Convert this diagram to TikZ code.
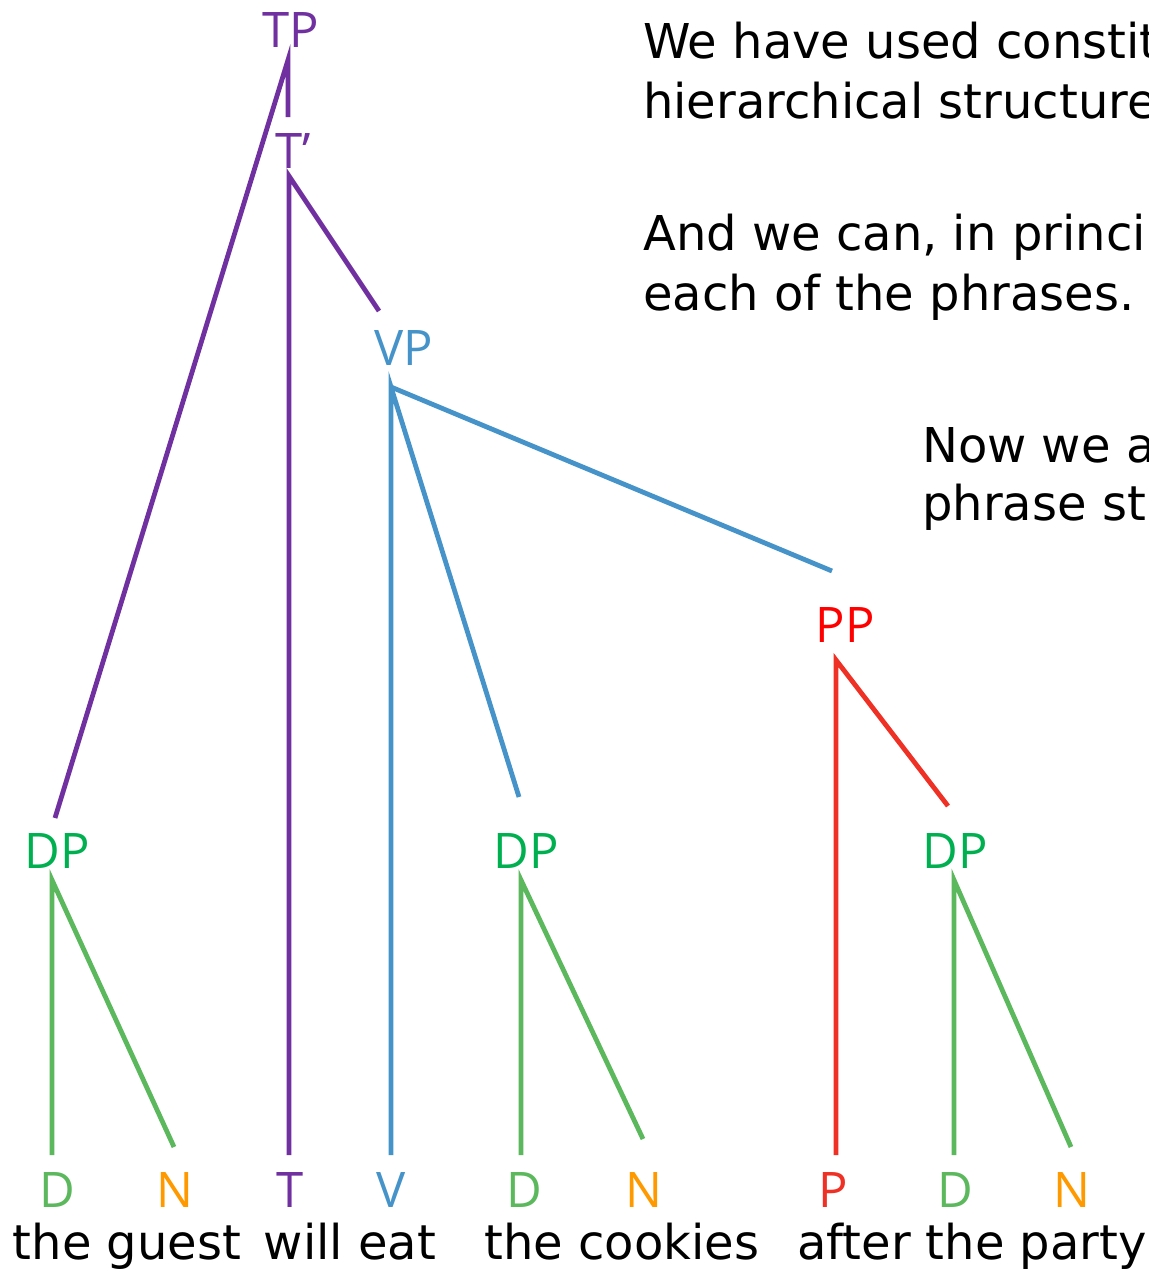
\documentclass[tikz,border=0pt]{standalone}
\usepackage{fontspec}
\setmainfont{DejaVu Sans}
\newfontfamily\labfont{Open Sans}
\definecolor{cpurple}{HTML}{7030A0}
\definecolor{cblue}{HTML}{4593C8}
\definecolor{cgreen}{HTML}{00B050}
\definecolor{clgreen}{HTML}{5CB85C}
\definecolor{corange}{HTML}{FF9900}
\definecolor{cred}{HTML}{FF0000}
\definecolor{clred}{HTML}{EE3124}
\tikzset{
  lab/.style={font=\labfont\fontsize{49}{56}\selectfont, anchor=base, inner sep=0pt},
  word/.style={font=\fontsize{48}{56}\selectfont, anchor=base, inner sep=0pt},
  para/.style={font=\fontsize{48}{56}\selectfont, anchor=base west, inner sep=0pt},
  edge/.style={line width=4.8pt},
}
\begin{document}
\begin{tikzpicture}[x=1pt,y=-1pt]
\useasboundingbox (0,0) rectangle (1149,1270);
\clip (0,0) rectangle (1149,1270);
% labels
\node[lab, text=cpurple] (TP) at (291,47) {TP};
\node[lab, text=cpurple] (Tbar) at (293,168) {T’};
\node[lab, text=cblue] (VP) at (404,365) {VP};
\node[lab, text=cred] (PP) at (845,642) {PP};
\node[lab, text=cgreen] (DP1) at (57,868) {DP};
\node[lab, text=cgreen] (DP2) at (526,868) {DP};
\node[lab, text=cgreen] (DP3) at (955,868) {DP};
\node[lab, text=clgreen] (D1) at (57,1207) {D};
\node[lab, text=corange] (N1) at (175,1207) {N};
\node[lab, text=cpurple] (T) at (290,1207) {T};
\node[lab, text=cblue] (V) at (391,1207) {V};
\node[lab, text=clgreen] (D2) at (524,1207) {D};
\node[lab, text=corange] (N2) at (644,1207) {N};
\node[lab, text=clred] (P) at (833,1207) {P};
\node[lab, text=clgreen] (D3) at (955,1207) {D};
\node[lab, text=corange] (N3) at (1072,1207) {N};
% words
\node[word] (w1) at (127,1259) {the guest};
\node[word] (w2) at (350,1259) {will eat};
\node[word] (w3) at (622,1259) {the cookies};
\node[word] (w4) at (972,1259) {after the party};
% paragraph text
\node[para] (p1) at (643,58) {We have used constit};
\node[para] (p2) at (643,118) {hierarchical structure};
\node[para] (p3) at (643,250) {And we can, in princi};
\node[para] (p4) at (643,310) {each of the phrases.};
\node[para] (p5) at (922,462) {Now we a};
\node[para] (p6) at (922,520) {phrase str};
% connector end points
\coordinate (TPs) at (288,60);
\coordinate (TPe1) at (288,117);
\coordinate (TPe2) at (55,818);
\coordinate (Tbs) at (289,176);
\coordinate (Tbe1) at (289,1155);
\coordinate (Tbe2) at (379,311);
\coordinate (VPs) at (391,387);
\coordinate (VPe1) at (391,1155);
\coordinate (VPe2) at (519,797);
\coordinate (VPe3) at (832,571);
\coordinate (PPs) at (836,660);
\coordinate (PPe1) at (836,1155);
\coordinate (PPe2) at (948,806);
\coordinate (D1s) at (52,880);
\coordinate (D1e1) at (52,1155);
\coordinate (D1e2) at (174,1147);
\coordinate (D2s) at (521,880);
\coordinate (D2e1) at (521,1155);
\coordinate (D2e2) at (643,1139);
\coordinate (D3s) at (954,880);
\coordinate (D3e1) at (954,1155);
\coordinate (D3e2) at (1071,1147);
% connectors
\draw[edge, cpurple] (TPe1) -- (TPs) -- (TPe2);
\draw[edge, cpurple] (Tbe1) -- (Tbs) -- (Tbe2);
\draw[edge, cblue] (VPe1) -- (VPs) -- (VPe2);
\draw[edge, cblue] (VPs) -- (VPe3);
\draw[edge, clred] (PPe1) -- (PPs) -- (PPe2);
\draw[edge, clgreen] (D1e1) -- (D1s) -- (D1e2);
\draw[edge, clgreen] (D2e1) -- (D2s) -- (D2e2);
\draw[edge, clgreen] (D3e1) -- (D3s) -- (D3e2);
\end{tikzpicture}
\end{document}
